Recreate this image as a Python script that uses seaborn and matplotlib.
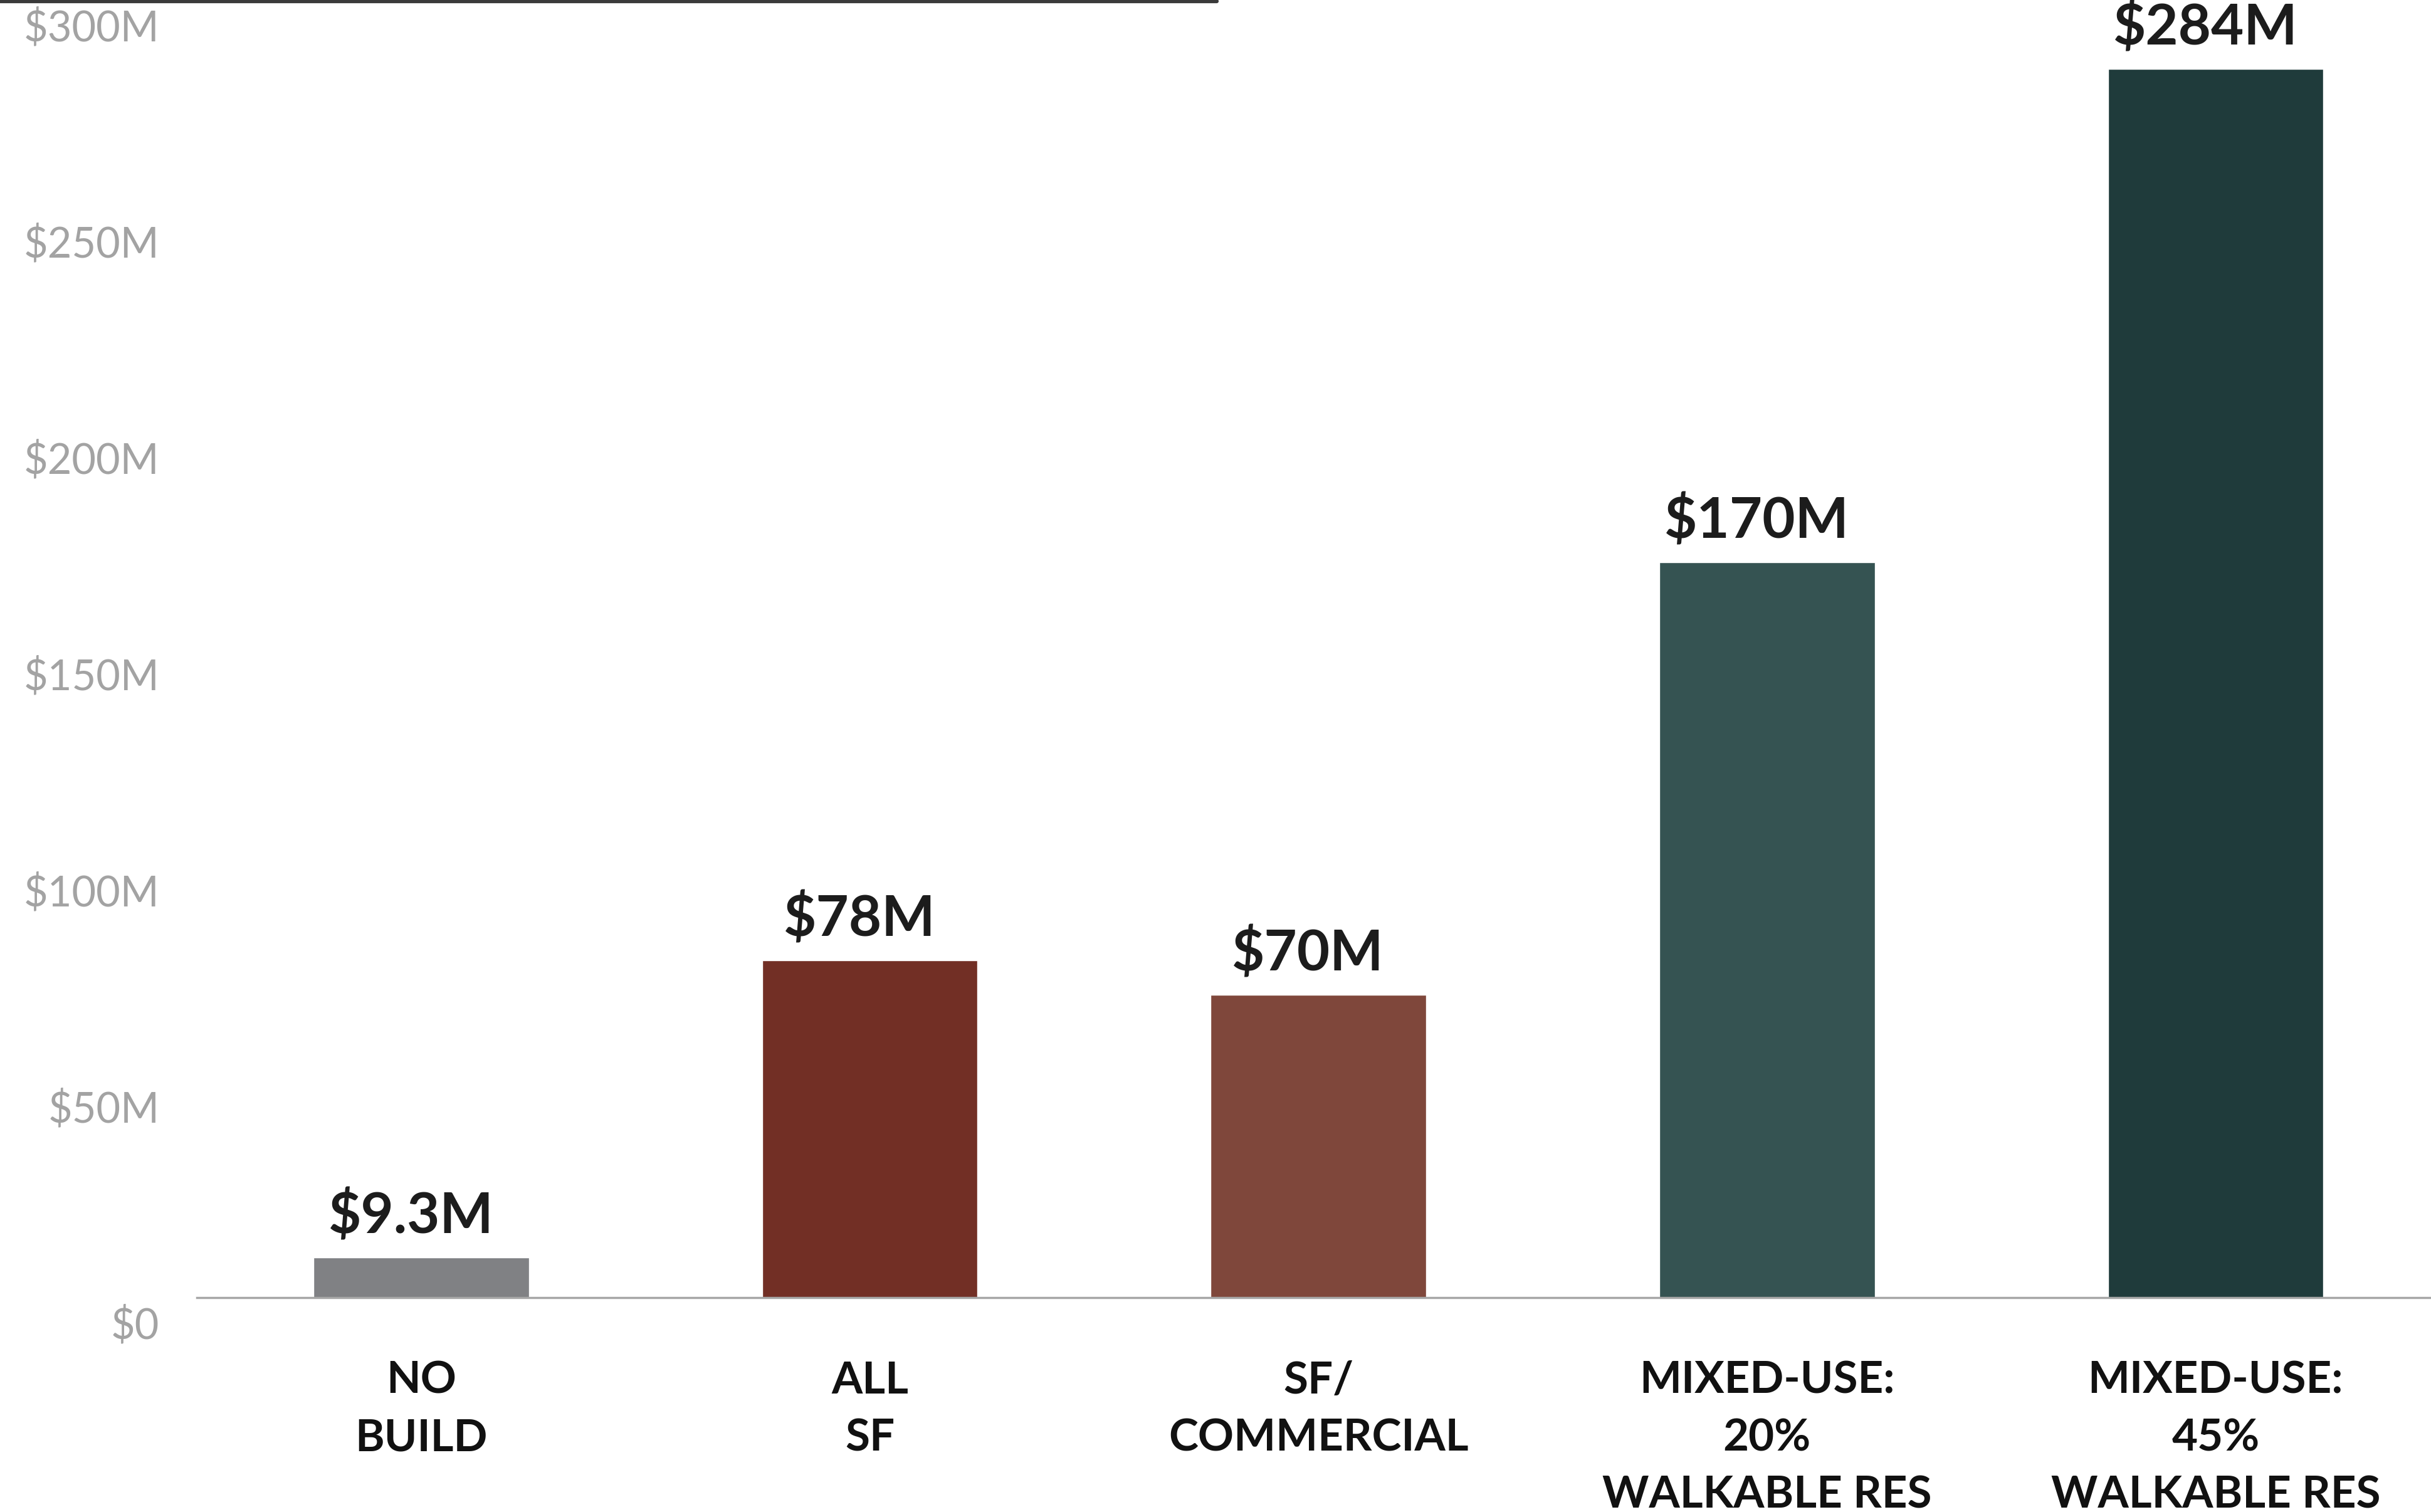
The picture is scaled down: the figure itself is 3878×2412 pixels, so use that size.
import matplotlib
matplotlib.use("Agg")
import matplotlib.pyplot as plt
import matplotlib.transforms as mtransforms
from matplotlib.lines import Line2D
import seaborn as sns
import pandas as pd

# data
categories = ["NO\nBUILD", "ALL\nSF", "SF/\nCOMMERCIAL",
              "MIXED-USE:\n20%\nWALKABLE RES", "MIXED-USE:\n45%\nWALKABLE RES"]
values = [9.3, 78, 70, 170, 284]
value_labels = ["$9.3M", "$78M", "$70M", "$170M", "$284M"]
bar_colors = ["#808184", "#722F25", "#7F473B", "#355352", "#1F3B3B"]
y_ticks = [0, 50, 100, 150, 200, 250, 300]
y_tick_labels = ["$0", "$50M", "$100M", "$150M", "$200M", "$250M", "$300M"]

sns.set_theme(style="white")
plt.rcParams["font.family"] = ["Lato", "DejaVu Sans"]

df = pd.DataFrame({"scenario": categories, "value": values})

fig = plt.figure(figsize=(38.78, 24.12), dpi=100)
ax = fig.add_axes([0.081, 0.1418, 0.919, 0.8582])

sns.barplot(data=df, x="scenario", y="value", hue="scenario",
            palette=bar_colors, width=0.48, legend=False, ax=ax,
            saturation=1)

ax.set_xlim(-0.5, 4.48)
ax.set_ylim(0, 300)
ax.set_xlabel("")
ax.set_ylabel("")

# y ticks (labels sit a little below their gridline like the original)
ax.set_yticks(y_ticks)
ax.set_yticklabels(y_tick_labels, color="#a3a3a3", fontsize=48,
                   fontweight="normal")
ax.tick_params(axis="y", length=0, pad=43)
off = mtransforms.ScaledTranslation(0, -40 / 100, fig.dpi_scale_trans)
for lbl in ax.get_yticklabels():
    lbl.set_transform(lbl.get_transform() + off)

ax.set_xticks(range(len(categories)))
ax.set_xticklabels(categories, fontsize=51, fontweight="bold",
                   color="#111111", linespacing=1.5)
ax.tick_params(axis="x", length=0, pad=72)

for side in ["top", "right", "left"]:
    ax.spines[side].set_visible(False)
ax.spines["bottom"].set_color("#a6a6a6")
ax.spines["bottom"].set_linewidth(2.5)

# value labels
for i, (v, txt) in enumerate(zip(values, value_labels)):
    ax.annotate(txt, (i, v), xytext=(-12, 17), textcoords="offset points",
                ha="center", va="bottom", fontsize=65, fontweight="bold",
                color="#1c1c1c")

# decorative rule along the top
fig.add_artist(Line2D([0, 0.5005], [0.9992, 0.9992], transform=fig.transFigure,
                      color="#3a3a3a", linewidth=4.5, solid_capstyle="round"))

fig.savefig("out.png", dpi=100, facecolor="white")
